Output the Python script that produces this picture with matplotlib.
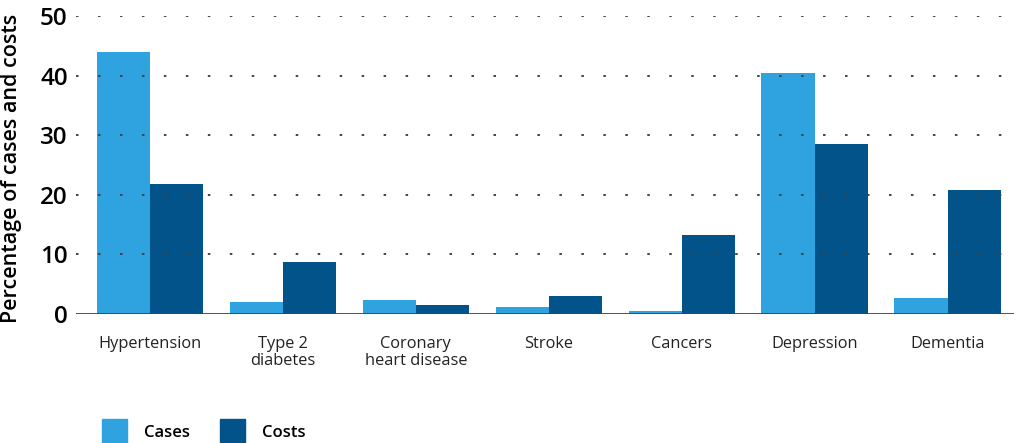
import numpy as np
import matplotlib
matplotlib.use("Agg")
import matplotlib.pyplot as plt
from matplotlib.patches import Patch

# data
categories = ["Hypertension", "Type 2\ndiabetes", "Coronary\nheart disease",
              "Stroke", "Cancers", "Depression", "Dementia"]
cases = [44.0, 2.0, 2.3, 1.2, 0.5, 40.4, 2.7]
costs = [21.8, 8.7, 1.5, 3.0, 13.3, 28.5, 20.8]
yticks = [0, 10, 20, 30, 40, 50]

LIGHT = "#2fa3df"
DARK = "#02538a"

plt.rcParams["font.family"] = ["Open Sans", "DejaVu Sans"]

fig = plt.figure(figsize=(10.14, 4.43), dpi=100)
ax = fig.add_axes([0.075, 0.291, 0.925, 0.673])

x = np.arange(len(categories))
w = 0.4
ax.bar(x - w / 2, cases, w, color=LIGHT, zorder=2, label="Cases")
ax.bar(x + w / 2, costs, w, color=DARK, zorder=2, label="Costs")

ax.set_xlim(-0.556, 6.5)
ax.set_ylim(0, 50)
ax.set_yticks(yticks)
ax.set_xticks(x)
ax.set_xticklabels(categories, fontsize=11.8, color="#222222", linespacing=1.05)
ax.tick_params(axis="both", length=0)
ax.tick_params(axis="x", pad=16)
ax.tick_params(axis="y", pad=6, labelsize=17.5)
for lab in ax.get_yticklabels():
    lab.set_fontweight("semibold")

# dotted gridlines drawn above the bars
for yv in yticks[1:]:
    ax.axhline(yv, color="#444444", lw=1.4, linestyle=(0, (1.3, 10)), zorder=3)
ax.axhline(0, color="#444444", lw=1.3, zorder=4)

for s in ax.spines.values():
    s.set_visible(False)

ax.set_ylabel("Percentage of cases and costs", fontsize=15.5, fontweight="semibold")
ax.yaxis.set_label_coords(-0.058, 0.49)

handles = [Patch(color=LIGHT, label="Cases"), Patch(color=DARK, label="Costs")]
fig.legend(handles=handles, loc="lower left", bbox_to_anchor=(0.086, -0.038),
           ncol=2, frameon=False, handlelength=1.5,
           handleheight=2.0, columnspacing=1.8, handletextpad=1.0,
           prop={"weight": "semibold", "size": 12})

fig.savefig("out.png", dpi=100)
